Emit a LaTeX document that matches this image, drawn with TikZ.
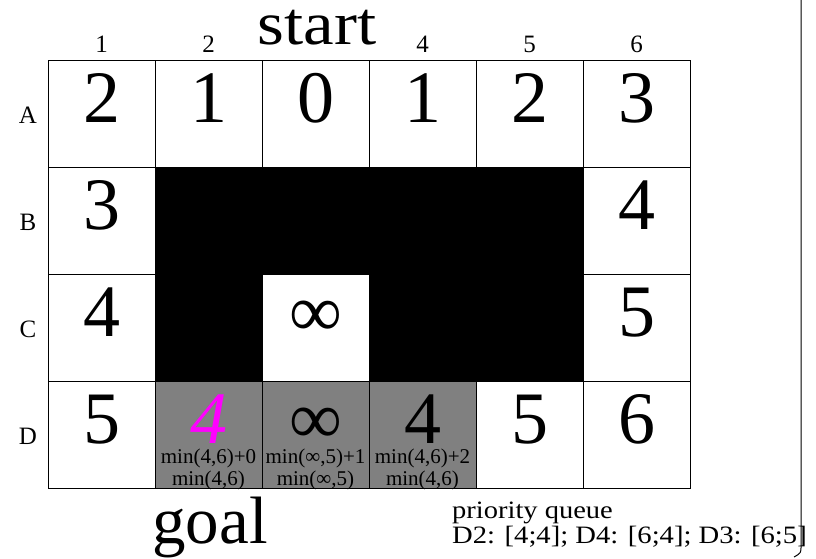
\documentclass[tikz,border=0pt]{standalone}
\usepackage{fontspec}
\setmainfont{Liberation Serif}
\definecolor{puremagenta}{RGB}{255,0,255}
\begin{document}
\begin{tikzpicture}[x=1pt,y=-1pt,
  cell/.style={draw=black, line width=1pt, minimum width=107pt, minimum height=107pt, inner sep=0pt, outer sep=0pt, anchor=north west},
  wallcell/.style={cell, fill=black},
  opencell/.style={cell, fill=gray},
  big/.style={font=\fontsize{74}{80}\selectfont, anchor=base, inner sep=0pt},
  small/.style={font=\fontsize{21}{22}\selectfont, anchor=base, inner sep=0pt},
  axis/.style={font=\fontsize{25}{28}\selectfont, anchor=base, inner sep=0pt},
  huge/.style={font=\fontsize{67}{72}\selectfont, anchor=base, inner sep=0pt},
  queue/.style={font=\fontsize{25}{25}\selectfont, anchor=base west, inner sep=0pt, align=left}]
\useasboundingbox (0,0) rectangle (816,558);
% cells
\foreach \c/\s in {1/cell,2/cell,3/cell,4/cell,5/cell,6/cell}
  \node[\s] (A\c) at ({48+107*(\c-1)},60) {};
\foreach \c/\s in {1/cell,2/wallcell,3/wallcell,4/wallcell,5/wallcell,6/cell}
  \node[\s] (B\c) at ({48+107*(\c-1)},167) {};
\foreach \c/\s in {1/cell,2/wallcell,3/cell,4/wallcell,5/wallcell,6/cell}
  \node[\s] (C\c) at ({48+107*(\c-1)},274) {};
\foreach \c/\s in {1/cell,2/opencell,3/opencell,4/opencell,5/cell,6/cell}
  \node[\s] (D\c) at ({48+107*(\c-1)},381) {};
% values
\foreach \c/\v in {1/2,2/1,3/0,4/1,5/2,6/3}
  \node[big] (vA\c) at ({101.5+107*(\c-1)},122) {\v};
\node[big] (vB1) at (101.5,229) {3};
\node[big] (vB6) at (636.5,229) {4};
\node[big] (vC1) at (101.5,336) {4};
\node[big] (vC3) at (315.5,336) {∞};
\node[big] (vC6) at (636.5,336) {5};
\node[big] (vD1) at (101.5,443) {5};
\node[big, text=puremagenta, font=\fontsize{74}{80}\selectfont\itshape] (vD2) at (208.5,443) {4};
\node[big] (vD3) at (315.5,443) {∞};
\node[big] (vD4) at (422.5,443) {4};
\node[big] (vD5) at (529.5,443) {5};
\node[big] (vD6) at (636.5,443) {6};
% computations
\node[small] (m2a) at (208.5,463) {min(4,6)+0};
\node[small] (m2b) at (208.5,485) {min(4,6)};
\node[small] (m3a) at (315.5,463) {min(∞,5)+1};
\node[small] (m3b) at (315.5,485) {min(∞,5)};
\node[small] (m4a) at (422.5,463) {min(4,6)+2};
\node[small] (m4b) at (422.5,485) {min(4,6)};
% axis labels
\foreach \c in {1,2,4,5,6}
  \node[axis] (col\c) at ({101.5+107*(\c-1)},52) {\c};
\foreach \r/\y in {A/123,B/230,C/337,D/444}
  \node[axis] (row\r) at (28,\y) {\r};
\node[huge, font=\fontsize{61}{66}\selectfont] (start) at (317,44) {\scalebox{1.13}[1]{start}};
\node[huge] (goal) at (210,543) {goal};
% priority queue
\node[queue] (pq1) at (452,518) {\scalebox{1.14}[1]{priority queue}};
\node[queue] (pq2) at (452,543) {\scalebox{1.145}[1]{D2: [4;4]; D4: [6;4]; D3: [6;5]}};
% frame edge
\coordinate (ft) at (801,0);
\coordinate (fb) at (794,557);
\draw[line width=1pt] (ft) -- (801,546) .. controls (801,553) .. (fb);
\end{tikzpicture}
\end{document}
